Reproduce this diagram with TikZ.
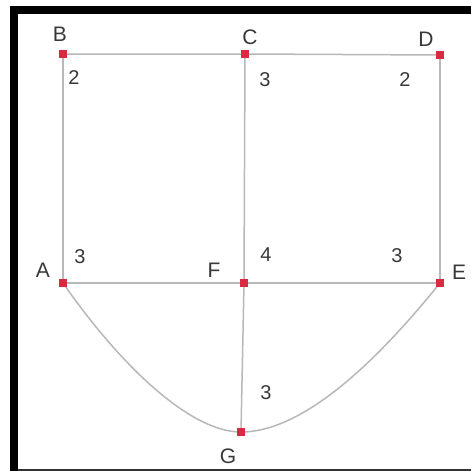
\documentclass[tikz,border=0pt]{standalone}
\usepackage{fontspec}
\setmainfont{Liberation Sans}
\begin{document}
\begin{tikzpicture}[x=1pt,y=-1pt,
  vtx/.style={fill=vred,draw=none,minimum size=8pt,inner sep=0pt,rectangle},
  edge/.style={draw=lgray,line width=1.5pt},
  lbl/.style={font=\fontsize{21}{23}\selectfont,text=black!78,inner sep=0pt},
  wt/.style={font=\fontsize{20}{22}\selectfont,text=black!78,inner sep=0pt}]
\definecolor{vred}{HTML}{DA2A42}
\definecolor{lgray}{HTML}{B8B8B8}
\useasboundingbox (0,0) rectangle (471,471);
\fill[white] (0,0) rectangle (471,471);
% frame
\fill[black] (10,6) rectangle (471,14);
\fill[black] (10,6) rectangle (18,471);
\fill[black!80] (18,468.5) rectangle (471,471);
% vertices
\node[vtx] (B) at (63,54) {};
\node[vtx] (C) at (245,54) {};
\node[vtx] (D) at (440,55) {};
\node[vtx] (A) at (63,283) {};
\node[vtx] (F) at (244,283) {};
\node[vtx] (E) at (440,283) {};
\node[vtx] (G) at (241,432) {};
% edges
\draw[edge] (B.center) -- (C.center) -- (D.center);
\draw[edge] (B.center) -- (A.center);
\draw[edge] (C.center) -- (F.center) -- (G.center);
\draw[edge] (D.center) -- (E.center);
\draw[edge] (A.center) -- (F.center) -- (E.center);
\draw[edge] (A.center) .. controls (120,365) and (190,432) .. (G.center);
\draw[edge] (G.center) .. controls (310,432) and (390,345) .. (E.center);
% vertices on top
\foreach \v in {B,C,D,A,F,E,G}
  \fill[vred] (\v.south west) rectangle (\v.north east);
% labels
\node[lbl] (lB) at (60,34) {B};
\node[lbl] (lC) at (250,37) {C};
\node[lbl] (lD) at (426,39) {D};
\node[lbl] (lA) at (43,270) {A};
\node[lbl] (lF) at (214,270) {F};
\node[lbl] (lE) at (459,272) {E};
\node[lbl] (lG) at (228,456) {G};
% weights
\node[wt] (w1) at (74,78) {2};
\node[wt] (w2) at (265,80) {3};
\node[wt] (w3) at (405,80) {2};
\node[wt] (w4) at (80,257) {3};
\node[wt] (w5) at (266,255) {4};
\node[wt] (w6) at (397,256) {3};
\node[wt] (w7) at (266,393) {3};
\end{tikzpicture}
\end{document}
